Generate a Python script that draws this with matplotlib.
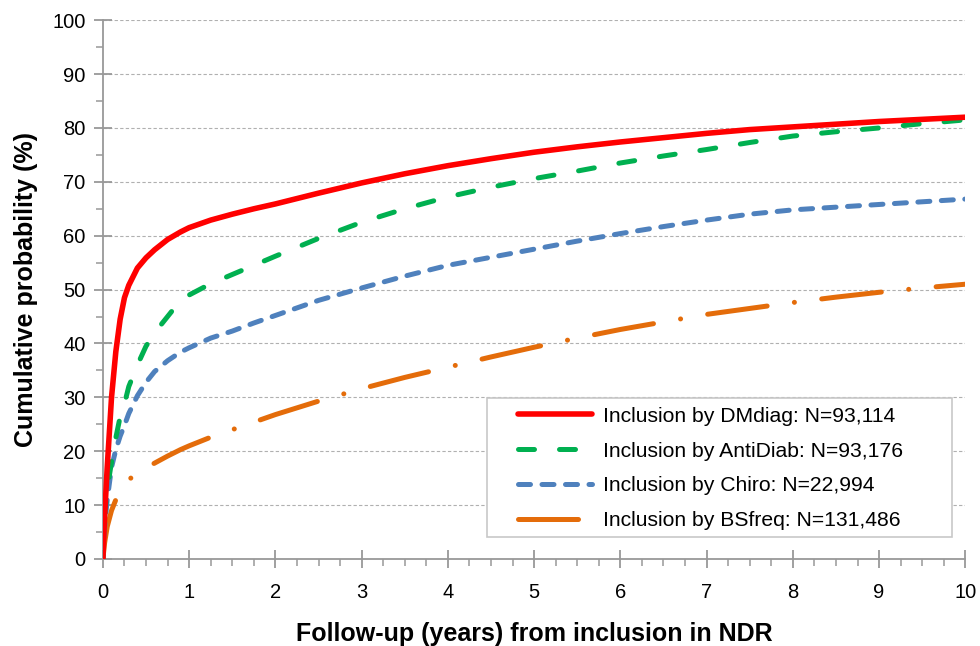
import numpy as np
import matplotlib
matplotlib.use("Agg")
import matplotlib.pyplot as plt
from matplotlib.ticker import MultipleLocator
from matplotlib.patches import Rectangle

plt.rcParams['font.family'] = ['Liberation Sans', 'DejaVu Sans']

# follow-up years at which the curves were read
years = [0, 0.02, 0.05, 0.1, 0.15, 0.2, 0.25, 0.3, 0.4, 0.5, 0.6, 0.75, 0.9, 1.0,
         1.25, 1.5, 1.75, 2, 2.5, 3, 3.5, 4, 4.5, 5, 5.5, 6, 6.5, 7, 7.5, 8, 8.5, 9, 9.5, 10]

dmdiag = [0, 8, 17, 30, 38.5, 44.5, 48.5, 50.8, 54, 55.9, 57.4, 59.3, 60.7, 61.5,
          62.9, 64, 65, 65.9, 67.9, 69.8, 71.5, 73, 74.3, 75.5, 76.5, 77.4, 78.2, 79, 79.7, 80.2, 80.7, 81.2, 81.6, 82]
antidiab = [0, 8, 13, 18, 22.5, 26.4, 28.8, 32, 36, 39.5, 42, 45, 48, 49,
            51.1, 52.8, 54.5, 56.2, 59.5, 62.5, 65, 67.2, 69, 70.6, 72, 73.5, 74.8, 76, 77.3, 78.5, 79.3, 80, 80.8, 81.5]
chiro = [0, 6, 11, 17, 20.3, 22.8, 24.8, 27, 30.3, 32.8, 34.8, 36.8, 38.4, 39.2,
         41, 42.3, 43.8, 45.2, 48, 50.3, 52.5, 54.5, 56, 57.5, 59, 60.4, 61.7, 62.9, 64, 64.8, 65.3, 65.8, 66.3, 66.8]
bsfreq = [0, 3, 6, 9, 11, 12.7, 13.8, 14.7, 16, 16.9, 17.8, 19.1, 20.3, 21,
          22.6, 24, 25.4, 26.8, 29.3, 31.6, 33.7, 35.6, 37.5, 39.3, 41, 42.6, 44, 45.4, 46.5, 47.6, 48.6, 49.5, 50.3, 51]

labels = ["Inclusion by DMdiag: N=93,114",
          "Inclusion by AntiDiab: N=93,176",
          "Inclusion by Chiro: N=22,994",
          "Inclusion by BSfreq: N=131,486"]

fig = plt.figure(figsize=(9.8, 6.46), dpi=100)
ax = fig.add_axes([0.105, 0.1347, 0.880, 0.834])

lw = 3.6
ax.plot(years, dmdiag, color='#ff0000', lw=4.0, solid_capstyle='round', solid_joinstyle='round', label=labels[0], zorder=5)
ax.plot(years, antidiab, color='#00b050', lw=lw, dashes=(3.2, 5.0), dash_capstyle='round', label=labels[1], zorder=4)
ax.plot(years, chiro, color='#4f81bd', lw=lw, dashes=(2.4, 2.3), dash_capstyle='round', label=labels[2], zorder=3)
ax.plot(years, bsfreq, color='#e46c0a', lw=lw, dashes=(12, 5.5, 0.01, 5.5), dash_capstyle='round', label=labels[3], zorder=2)

ax.set_xlim(0, 10)
ax.set_ylim(0, 100)
ax.xaxis.set_major_locator(MultipleLocator(1))
ax.xaxis.set_minor_locator(MultipleLocator(0.25))
ax.yaxis.set_major_locator(MultipleLocator(10))
ax.yaxis.set_minor_locator(MultipleLocator(5))

ax.grid(axis='y', which='major', color='#b0b0b0', linestyle=(0, (3, 2)), linewidth=0.8)
ax.set_axisbelow(True)

for s in ['top', 'right']:
    ax.spines[s].set_visible(False)
for s in ['left', 'bottom']:
    ax.spines[s].set_color('#999999')
    ax.spines[s].set_linewidth(1.3)

ax.tick_params(which='major', direction='inout', length=13, width=1.3, color='#999999', labelsize=14.5, labelcolor='black')
ax.tick_params(which='minor', direction='out', length=5, width=1.1, color='#999999')
ax.tick_params(axis='y', which='major', pad=6)
ax.tick_params(axis='x', which='major', pad=11)

ax.set_xlabel("Follow-up (years) from inclusion in NDR", fontsize=18, fontweight='bold', labelpad=14)
ax.set_ylabel("Cumulative probability (%)", fontsize=18, fontweight='bold', labelpad=10)

# legend frame
box = Rectangle((0.4455, 0.0408), 0.5394, 0.2579, transform=ax.transAxes,
                facecolor='white', edgecolor='#c8c8c8', linewidth=1.2, zorder=8)
ax.add_patch(box)
leg = ax.legend(loc='upper left', bbox_to_anchor=(0.4814, 0.2827), fontsize=15.2,
                frameon=False, handlelength=3.5, handletextpad=0.5, borderpad=0,
                labelspacing=0.75, borderaxespad=0)
leg.set_zorder(9)

plt.savefig("out.png", dpi=100)
